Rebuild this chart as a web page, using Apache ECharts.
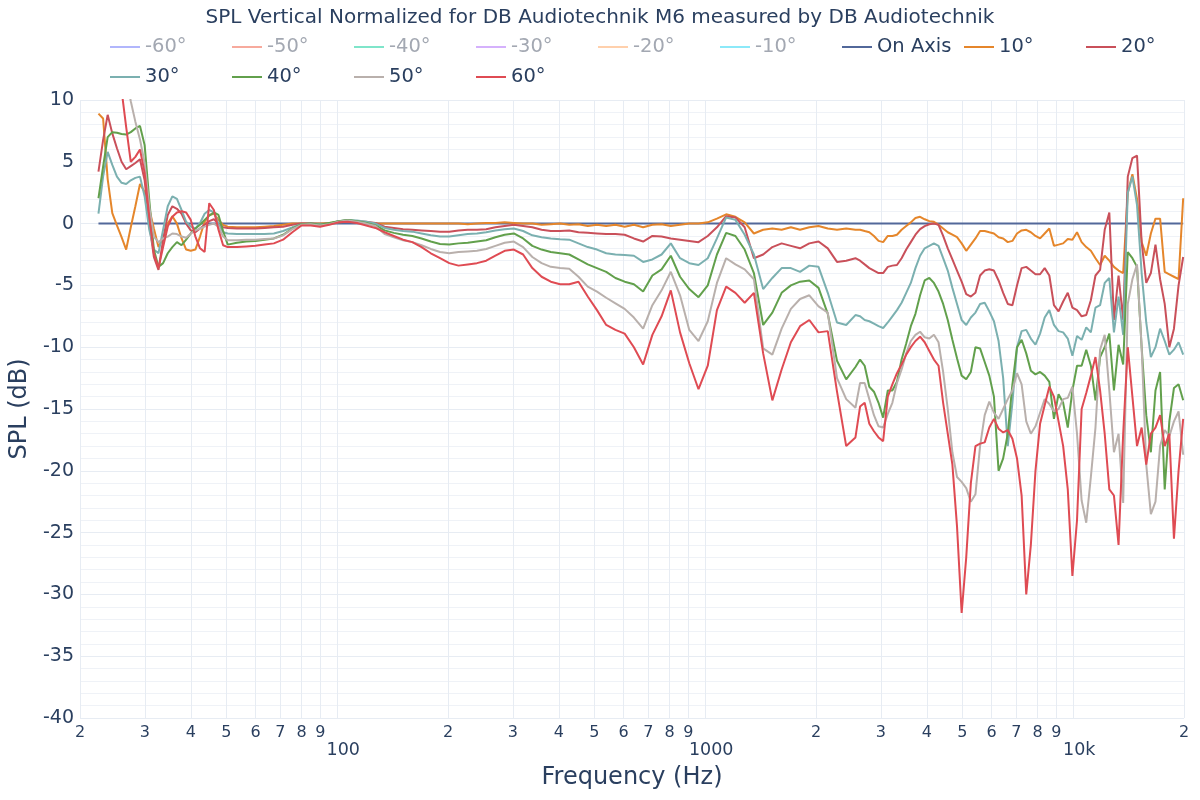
<!DOCTYPE html>
<html>
<head>
<meta charset="utf-8">
<script src="https://cdn.jsdelivr.net/npm/echarts@6/dist/echarts.min.js"></script>
<style>
html,body{margin:0;padding:0;background:#fff;}
#chart{width:1200px;height:800px;}
</style>
</head>
<body>
<div id="chart"></div>
<script>
// ---------------- data ----------------
const freqs = [
 22.45, 23.11, 23.78, 24.48, 25.20, 25.94, 26.70, 27.48, 28.28, 29.11, 29.97, 30.85, 31.75, 32.68, 33.64,
 34.63, 35.64, 36.68, 37.76, 38.86, 40.00, 41.17, 42.38, 43.62, 44.90, 46.22, 47.57, 48.97, 50.40,
 53.39, 56.57, 59.93, 63.50, 67.27, 71.27, 75.51, 80.00, 84.76, 89.80, 95.14, 100.8, 106.8, 113.1, 119.9,
 127.0, 134.5, 142.5, 151.0, 160.0, 169.5, 179.6, 190.3, 201.6, 213.6, 226.3, 239.7, 254.0, 269.1, 285.1,
 302.0, 320.0, 339.0, 359.2, 380.5, 403.2, 427.1, 452.5, 479.5, 508.0, 538.2, 570.2, 604.1, 640.0, 678.1,
 718.4, 761.1, 806.3, 854.3, 905.1, 958.9, 1016, 1076, 1140, 1208, 1280, 1356, 1437, 1522, 1613, 1709,
 1810, 1918, 2032, 2153, 2281, 2416, 2560,
 2635, 2712, 2792, 2874, 2958, 3044, 3134, 3225, 3319, 3417, 3517, 3620, 3726, 3836, 3948, 4064, 4183,
 4305, 4431, 4561, 4695, 4833, 4975, 5120, 5270, 5424, 5583, 5747, 5915, 6089, 6268, 6451, 6640, 6835,
 7035, 7241, 7453, 7671, 7896, 8127, 8365, 8611, 8863, 9123, 9390, 9665, 9948, 10240, 10540, 10849,
 11167, 11494, 11831, 12177, 12534, 12902, 13280, 13669, 14069, 14482, 14906, 15343, 15792, 16255,
 16731, 17222, 17726, 18246, 18781, 19331, 19897
];

const onAxis = [
 0,0,0,0,0,0,0,0,0,0,0,0,0,0,0,0,0,0,0,0,0,0,0,0,0,0,0,0,0,
 0,0,0,0,0,0,0,0,0,0,0,0,0,0,0,0,0,0,0,0,0,0,0,0,0,0,0,0,0,0,0,0,0,0,0,0,0,0,
 0,0,0,0,0,0,0,0,0,0,0,0,0,0,0,0,0,0,0,0,0,0,0,0,0,0,0,0,0,0,
 0,0,0,0,0,0,0,0,0,0,0,0,0,0,0,0,0,0,0,0,0,0,0,0,0,0,0,0,0,0,0,0,0,0,0,0,0,0,
 0,0,0,0,0,0,0,0,0,0,0,0,0,0,0,0,0,0,0,0,0,0,0,0,0,0,0,0,0,0,0,0,0,0,0,0,0,0,0,0,0
];

const deg10 = [
 8.9, 8.5, 3.6, 0.85, -0.15, -1.1, -2.1, -0.3, 1.4, 3.2, 2.55, 1.2, -0.4, -1.9, -1.2, 0.0, 0.6, 0.0, -1.2,
 -2.1, -2.2, -2.1, -1.05, 0.15, 0.7, 0.8, 0.3, -0.1, -0.25,
 -0.3, -0.3, -0.3, -0.25, -0.2, -0.1, 0, 0, 0, 0, 0.05, 0.1, 0.15, 0.1, 0.05, 0,
 0, 0, 0, 0, 0, 0, 0, 0, 0, -0.05, 0, 0.05, 0.05, 0.1, 0.05, 0, 0, -0.1, -0.05, 0, -0.1, -0.05, -0.2, -0.1,
 -0.2, -0.1, -0.25, -0.1, -0.3, -0.1, -0.05, -0.2, -0.1, 0, 0, 0.1, 0.4, 0.75, 0.55, 0.1, -0.8, -0.5, -0.4,
 -0.5, -0.3, -0.5, -0.3, -0.2, -0.4, -0.5, -0.4, -0.5,
 -0.5, -0.6, -0.7, -1.0, -1.4, -1.5, -1.0, -1.0, -0.9, -0.5, -0.2, 0.1, 0.45, 0.55, 0.35, 0.2, 0.15, -0.1,
 -0.4, -0.7, -0.9, -1.1, -1.6, -2.2, -1.7, -1.2, -0.6, -0.6, -0.7, -0.8, -1.1, -1.2, -1.5, -1.4, -0.8,
 -0.55, -0.5, -0.7, -1.0, -1.2, -0.8, -0.4, -1.8, -1.7, -1.6, -1.25, -1.3, -0.7, -1.5, -1.9, -2.2, -2.8,
 -3.35, -2.6, -3.0, -3.5, -3.8, -4.0, 2.5, 4.0, 2.0, -1.5, -2.6, -0.8, 0.4, 0.4, -3.9, -4.1, -4.3, -4.5, 2.05
];

const deg20 = [
 4.2, 6.75, 8.8, 7.3, 6.1, 5.0, 4.4, 4.65, 4.9, 5.2, 3.5, 0.0, -2.7, -3.75, -1.3, 0.7, 1.4, 1.2, 0.8, 0.0,
 -0.55, -0.7, -0.4, -0.1, 0.2, 0.35, 0.0, -0.3, -0.35,
 -0.4, -0.4, -0.4, -0.35, -0.3, -0.25, -0.1, 0, 0, -0.05, 0, 0.2, 0.25, 0.2, 0.15, 0.05,
 -0.25, -0.35, -0.45, -0.5, -0.55, -0.6, -0.65, -0.65, -0.55, -0.5, -0.5, -0.45, -0.3, -0.2, -0.1, -0.2,
 -0.3, -0.5, -0.6, -0.6, -0.55, -0.7, -0.75, -0.8, -0.85, -0.85, -0.9, -1.2, -1.45, -1.0, -1.05, -1.2,
 -1.3, -1.4, -1.5, -1.0, -0.3, 0.6, 0.5, -0.3, -2.8, -2.5, -1.9, -1.6, -1.8, -2.0, -1.6, -1.45, -2.0, -3.1,
 -3.0, -2.8,
 -3.0, -3.3, -3.6, -3.8, -4.0, -4.0, -3.5, -3.4, -3.35, -2.8, -2.1, -1.5, -0.9, -0.45, -0.2, -0.05, 0,
 -0.1, -1.0, -2.0, -2.9, -3.8, -4.7, -5.7, -5.9, -5.6, -4.2, -3.8, -3.7, -3.8, -4.6, -5.6, -6.5, -6.6, -5.0,
 -3.6, -3.5, -3.8, -4.1, -4.1, -3.6, -4.2, -6.6, -7.1, -6.3, -5.6, -6.8, -7.0, -7.5, -7.4, -6.2, -4.2,
 -3.75, -0.5, 0.9, -7.8, -4.2, -7.8, 3.8, 5.3, 5.5, -1.5, -4.8, -4.0, -1.7, -4.5, -6.5, -10.0, -8.5, -5.0, -2.7
];

const deg30 = [
 0.8, 3.8, 5.8, 4.75, 3.8, 3.3, 3.2, 3.5, 3.7, 3.8, 2.2, -0.5, -2.1, -2.4, -0.5, 1.4, 2.2, 2.0, 1.1, 0.15,
 -0.25, -0.4, 0.05, 0.8, 1.1, 0.9, 0.0, -0.7, -0.8,
 -0.85, -0.85, -0.85, -0.85, -0.8, -0.6, -0.3, -0.05, 0, -0.05, 0, 0.2, 0.3, 0.25, 0.15, 0.0,
 -0.35, -0.5, -0.6, -0.65, -0.8, -0.95, -1.05, -1.05, -0.95, -0.85, -0.8, -0.7, -0.55, -0.45, -0.4, -0.6,
 -0.95, -1.1, -1.2, -1.27, -1.3, -1.6, -1.9, -2.1, -2.4, -2.5, -2.55, -2.6, -3.1, -2.9, -2.5, -1.6, -2.8,
 -3.2, -3.35, -2.8, -1.2, 0.5, 0.3, -0.9, -2.5, -5.3, -4.4, -3.6, -3.6, -3.9, -3.4, -3.5, -5.6, -8.0, -8.2, -7.4,
 -7.5, -7.8, -7.9, -8.1, -8.3, -8.45, -8.0, -7.5, -7.0, -6.4, -5.6, -4.8, -3.6, -2.6, -2.0, -1.8, -1.6, -1.8,
 -2.8, -3.8, -5.2, -6.5, -7.8, -8.2, -7.6, -7.2, -6.5, -6.4, -7.1, -7.9, -9.5, -12.5, -18.0, -14.5, -10.0,
 -8.7, -8.6, -9.3, -9.8, -8.9, -7.6, -7.0, -8.2, -8.7, -8.8, -9.3, -10.7, -9.1, -9.4, -8.4, -8.8, -6.8, -6.6,
 -4.8, -4.4, -8.8, -5.9, -9.0, 2.5, 3.8, 1.5, -4.0, -8.0, -10.8, -10.0, -8.5, -9.5, -10.6, -10.2, -9.6, -10.6
];

const deg40 = [
 2.05, 4.6, 7.0, 7.4, 7.35, 7.25, 7.2, 7.4, 7.7, 7.9, 6.35, 1.9, -2.1, -3.5, -3.2, -2.4, -1.9, -1.5, -1.75,
 -1.3, -0.8, -0.4, -0.1, 0.3, 0.65, 0.9, 0.7, -0.6, -1.7,
 -1.55, -1.45, -1.4, -1.3, -1.2, -0.9, -0.4, -0.05, 0, -0.1, 0.05, 0.2, 0.3, 0.2, 0.05, -0.15,
 -0.55, -0.75, -0.9, -1.0, -1.2, -1.45, -1.65, -1.7, -1.6, -1.55, -1.45, -1.35, -1.1, -0.9, -0.8, -1.2,
 -1.8, -2.1, -2.3, -2.4, -2.5, -2.9, -3.3, -3.6, -3.9, -4.4, -4.7, -4.9, -5.5, -4.2, -3.7, -2.6, -4.3, -5.3,
 -5.95, -5.0, -2.5, -0.75, -1.0, -2.1, -4.0, -8.2, -7.2, -5.6, -5.0, -4.7, -4.6, -5.2, -7.3, -11.1, -12.6, -11.6,
 -11.0, -11.5, -13.2, -13.6, -14.5, -15.7, -13.5, -13.5, -12.8, -11.0, -9.7, -8.3, -7.3, -5.8, -4.6, -4.4,
 -4.8, -5.5, -6.5, -7.8, -9.4, -10.9, -12.3, -12.6, -12.0, -10.0, -10.1, -11.2, -12.3, -14.0, -20.0, -19.0,
 -17.0, -13.0, -10.0, -9.4, -10.5, -11.9, -12.2, -12.0, -12.3, -12.8, -15.8, -13.8, -14.5, -16.5, -13.5,
 -11.5, -11.5, -10.2, -11.5, -14.3, -10.8, -10.0, -8.9, -13.5, -9.8, -11.4, -2.3, -2.8, -3.5, -10.0, -15.5,
 -18.5, -13.5, -12.0, -21.5, -16.0, -13.3, -13.0, -14.3
];

const deg50 = [
 16, 17, 17, 16, 15, 13.5, 12, 9.9, 8.25, 6.8, 4.9, 1.4, -1.05, -1.5, -1.2, -1.05, -0.8, -0.85, -1.05,
 -1.15, -0.8, -0.55, -0.4, -0.25, -0.1, 0, -0.25, -1.05, -1.35,
 -1.35, -1.3, -1.3, -1.25, -1.2, -0.95, -0.45, -0.1, -0.05, -0.15, -0.05, 0.15, 0.25, 0.15, 0.0, -0.2,
 -0.85, -1.1, -1.35, -1.5, -1.75, -2.05, -2.3, -2.4, -2.3, -2.25, -2.2, -2.05, -1.8, -1.55, -1.45, -1.9,
 -2.7, -3.2, -3.5, -3.6, -3.65, -4.3, -5.1, -5.5, -6.0, -6.45, -6.9, -7.6, -8.5, -6.6, -5.4, -3.9, -5.8,
 -8.6, -9.5, -7.9, -4.8, -2.8, -3.3, -3.7, -4.5, -10.1, -10.6, -8.5, -6.9, -6.1, -5.8, -6.7, -7.2, -12.5,
 -14.2, -14.9,
 -12.9, -12.9, -14.2, -15.5, -16.4, -16.5, -15.4, -14.5, -12.9, -11.8, -10.5, -9.5, -9.0, -8.75, -9.2,
 -9.3, -9.0, -9.6, -12.0, -15.0, -18.5, -20.5, -20.9, -21.4, -22.5, -21.9, -18.0, -15.5, -14.4, -15.3,
 -15.8, -15.0, -14.2, -13.5, -12.1, -13.0, -16.0, -17.0, -16.4, -15.3, -14.2, -14.6, -15.2, -15.0, -14.2,
 -14.1, -13.2, -17.0, -22.4, -24.2, -20.5, -16.5, -10.2, -9.0, -13.5, -18.5, -17.0, -22.6, -6.5, -4.5,
 -3.3, -10.0, -19.5, -23.5, -22.5, -18.0, -16.7, -17.2, -16.0, -15.2, -18.7
];

const deg60 = [
 13, 14, 15, 15, 14, 10.8, 7.8, 5.0, 5.4, 6.0, 4.1, 0.55, -2.4, -3.6, -1.9, -0.25, 0.55, 0.9, 1.0, 0.9,
 0.3, -1.05, -2.0, -2.3, 1.65, 1.1, -0.5, -1.75, -1.9,
 -1.9, -1.85, -1.8, -1.7, -1.6, -1.3, -0.7, -0.15, -0.15, -0.25, -0.1, 0.1, 0.15, 0.05, -0.15, -0.35,
 -0.7, -1.0, -1.3, -1.5, -1.9, -2.4, -2.8, -3.2, -3.4, -3.3, -3.2, -3.0, -2.6, -2.2, -2.1, -2.5, -3.6,
 -4.3, -4.7, -4.9, -4.9, -4.7, -5.9, -7.0, -8.2, -8.6, -8.9, -10.0, -11.4, -9.0, -7.5, -5.4, -8.8, -11.3,
 -13.4, -11.5, -7.0, -5.1, -5.6, -6.4, -5.6, -10.5, -14.3, -11.8, -9.6, -8.3, -7.8, -8.8, -8.7, -13.6,
 -18.0, -17.3,
 -14.8, -14.5, -16.2, -16.8, -17.3, -17.6, -14.0, -13.0, -12.1, -11.4, -10.6, -10.0, -9.5, -9.15, -9.6,
 -10.3, -11.0, -11.5, -14.5, -17.0, -19.5, -24.5, -31.5, -27.0, -21.0, -18.0, -17.8, -17.7, -16.5, -15.8,
 -16.6, -16.9, -16.7, -17.4, -19.0, -22.0, -30.0, -26.0, -20.0, -16.2, -14.7, -13.2, -14.0, -16.0, -18.0,
 -21.5, -28.5, -24.0, -15.0, -13.7, -12.3, -10.8, -13.5, -17.0, -21.5, -22.0, -26.0, -17.0, -10.0, -14.0,
 -18.0, -16.5, -19.5, -17.0, -16.5, -15.5, -18.0, -17.0, -25.5, -20.0, -15.8
];

// legend-only (hidden) traces: no visible data
const hiddenNames = ['-60°', '-50°', '-40°', '-30°', '-20°', '-10°'];
const hiddenData = [];

const xTicks = [20, 30, 40, 50, 60, 70, 80, 90, 100, 200, 300, 400, 500, 600, 700, 800, 900,
  1000, 2000, 3000, 4000, 5000, 6000, 7000, 8000, 9000, 10000, 20000];
const xTickLabels = ['2', '3', '4', '5', '6', '7', '8', '9', '100', '2', '3', '4', '5', '6', '7', '8', '9',
  '1000', '2', '3', '4', '5', '6', '7', '8', '9', '10k', '2'];
const majorTicks = [100, 1000, 10000];

// ---------------- chart ----------------
const FONT = 'DejaVu Sans';
const TXT = '#2a3f5f';

const visible = [
  {name: 'On Axis', color: '#52689a', values: onAxis},
  {name: '10°', color: '#e5862b', values: deg10},
  {name: '20°', color: '#c9505a', values: deg20},
  {name: '30°', color: '#7bb0b0', values: deg30},
  {name: '40°', color: '#62a04c', values: deg40},
  {name: '50°', color: '#b9b0ac', values: deg50},
  {name: '60°', color: '#df4b53', values: deg60}
];
const hiddenColors = ['rgba(99,110,250,0.5)', 'rgba(239,85,59,0.5)', 'rgba(0,204,150,0.5)',
  'rgba(171,99,250,0.5)', 'rgba(255,161,90,0.5)', 'rgba(25,211,243,0.5)'];

const series = [];
hiddenNames.forEach((n, k) => {
  series.push({name: n, type: 'line', data: hiddenData, symbol: 'none', showSymbol: false,
    lineStyle: {width: 2, color: hiddenColors[k]}, itemStyle: {color: hiddenColors[k]}});
});
visible.forEach(s => {
  series.push({
    name: s.name, type: 'line', symbol: 'none', showSymbol: false, clip: true,
    lineStyle: {width: 2, color: s.color}, itemStyle: {color: s.color},
    data: freqs.map((f, i) => [f, s.values[i]])
  });
});

const legendItem = (n, hidden) => hidden
  ? {name: n, textStyle: {color: '#a3a8b2'}}
  : {name: n};
const legendBase = {
  left: 110, padding: 0, itemWidth: 30, itemHeight: 2, itemGap: 7, selectedMode: false,
  icon: 'rect',
  formatter: function (n) { return (n === '20°' ? '{c|' : '{a|') + n + '}'; },
  textStyle: {fontFamily: FONT, fontSize: 19.5, color: TXT,
    rich: {
      a: {width: 80, fontSize: 19.5, fontFamily: FONT, lineHeight: 24},
      c: {width: 40, fontSize: 19.5, fontFamily: FONT, lineHeight: 24}
    }}
};
const row1 = hiddenNames.map(n => legendItem(n, true))
  .concat(['On Axis', '10°', '20°'].map(n => legendItem(n, false)));
const row2 = ['30°', '40°', '50°', '60°'].map(n => legendItem(n, false));

const chart = echarts.init(document.getElementById('chart'), null, {renderer: 'canvas'});
chart.setOption({
  animation: false,
  backgroundColor: '#ffffff',
  textStyle: {fontFamily: FONT},
  title: {
    text: 'SPL Vertical Normalized for DB Audiotechnik M6 measured by DB Audiotechnik',
    left: 'center', top: 3,
    textStyle: {fontFamily: FONT, fontSize: 20, fontWeight: 'normal', color: TXT}
  },
  legend: [
    Object.assign({}, legendBase, {top: 37, data: row1}),
    Object.assign({}, legendBase, {top: 67, data: row2})
  ],
  grid: {left: 80, right: 16, top: 100, bottom: 82, containLabel: false},
  xAxis: {
    type: 'log', logBase: 10, min: 20, max: 20000,
    name: 'Frequency (Hz)', nameLocation: 'middle', nameGap: 48,
    nameTextStyle: {fontFamily: FONT, fontSize: 24, color: TXT},
    axisLine: {show: false},
    axisTick: {show: false, customValues: xTicks},
    axisLabel: {
      customValues: xTicks, margin: 7, color: TXT, fontFamily: FONT,
      formatter: function (v) {
        let k = 0, best = Infinity;
        xTicks.forEach((t, i) => { const d = Math.abs(Math.log(t) - Math.log(v)); if (d < best) { best = d; k = i; } });
        const lab = xTickLabels[k];
        return majorTicks.indexOf(xTicks[k]) >= 0 ? '{b|' + lab + '}' : '{s|' + lab + '}';
      },
      rich: {
        s: {fontSize: 16, color: TXT, fontFamily: FONT},
        b: {fontSize: 17.5, color: TXT, fontFamily: FONT, padding: [16, 0, 0, 12]}
      }
    },
    splitLine: {show: true, lineStyle: {color: '#e7ecf3', width: 1}}
  },
  yAxis: {
    type: 'value', min: -40, max: 10, interval: 5,
    name: 'SPL (dB)', nameLocation: 'middle', nameGap: 44,
    nameTextStyle: {fontFamily: FONT, fontSize: 24, color: TXT},
    axisLine: {show: false}, axisTick: {show: false},
    axisLabel: {fontSize: 19, color: TXT, fontFamily: FONT, margin: 6},
    splitLine: {show: true, lineStyle: {color: '#e7ecf3', width: 1}},
    minorTick: {show: false, splitNumber: 5},
    minorSplitLine: {show: true, lineStyle: {color: '#eff2f7', width: 1}}
  },
  series: series
});
</script>
</body>
</html>
